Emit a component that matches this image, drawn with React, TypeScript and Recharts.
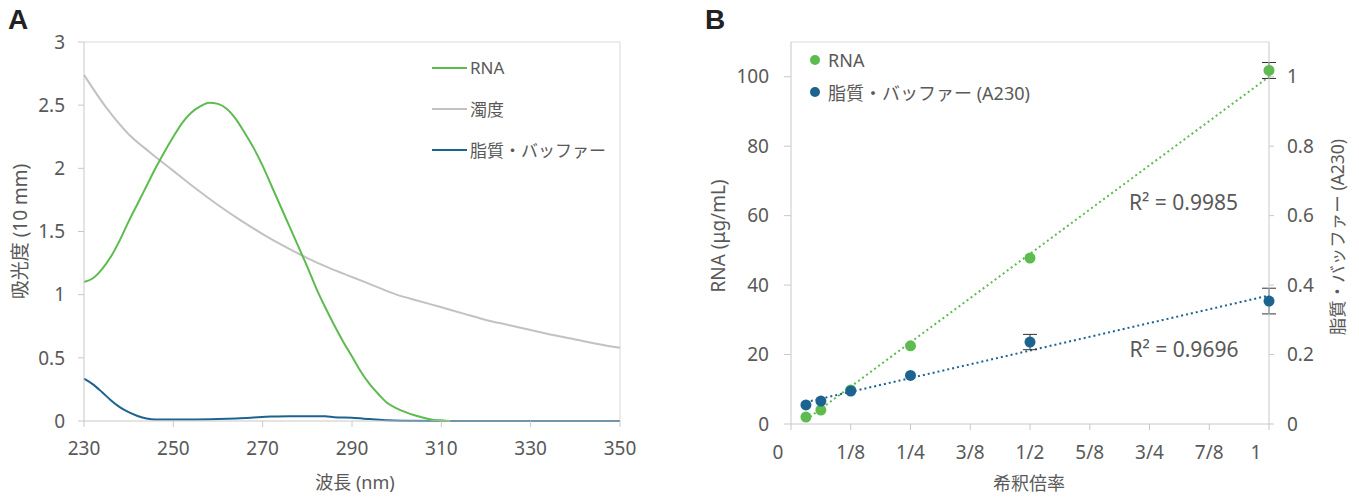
import {
  LineChart,
  Line,
  XAxis,
  YAxis,
  Legend,
  ReferenceLine,
  ReferenceDot,
  ComposedChart,
  Scatter,
  ErrorBar,
} from "recharts";

const FONT = '"Noto Sans", "Noto Sans CJK JP", sans-serif';
const TEXT = "#595959";
const AXIS = "#c8c8c8";
const GREEN = "#5dbb4f";
const BLUE = "#1d6390";
const GRAY = "#c2c2c2";

// --- panel A: absorbance spectra ---
const rnaNm = [
  230, 232, 234, 236, 238, 240, 242, 244, 246, 248, 250, 252, 254, 256, 258, 260, 262, 264, 266, 268,
  270, 272, 274, 276, 278, 280, 282, 284, 286, 288, 290, 292, 294, 296, 298, 300, 302, 304, 306, 308,
  310, 312,
];
const rnaAbs = [
  1.1, 1.13, 1.2, 1.3, 1.43, 1.58, 1.72, 1.86, 2.0, 2.13, 2.25, 2.36, 2.44, 2.49, 2.52, 2.51, 2.47, 2.39,
  2.28, 2.16, 2.02, 1.86, 1.7, 1.54, 1.38, 1.22, 1.05, 0.9, 0.76, 0.63, 0.51, 0.39, 0.29, 0.21, 0.14,
  0.1, 0.07, 0.045, 0.025, 0.01, 0.005, 0,
];
const turbNm = [
  230, 235, 240, 245, 250, 255, 260, 265, 270, 275, 280, 285, 290, 295, 300, 305, 310, 315, 320, 325,
  330, 335, 340, 345, 350,
];
const turbAbs = [
  2.74, 2.48, 2.27, 2.12, 1.98, 1.84, 1.71, 1.59, 1.48, 1.38, 1.29, 1.21, 1.14, 1.07, 1.0, 0.95, 0.9,
  0.85, 0.8, 0.76, 0.72, 0.68, 0.645, 0.61, 0.58,
];
const lipidNm = [
  230, 232, 234, 236, 238, 240, 242, 244, 246, 250, 255, 260, 264, 268, 272, 276, 280, 284, 286, 290,
  294, 298, 302, 310, 350,
];
const lipidAbs = [
  0.335, 0.29, 0.23, 0.165, 0.11, 0.07, 0.04, 0.02, 0.012, 0.012, 0.012, 0.015, 0.02, 0.028, 0.035,
  0.038, 0.038, 0.037, 0.03, 0.025, 0.015, 0.005, 0.002, 0, 0,
];
const nmTicks = [230, 250, 270, 290, 310, 330, 350];
const absTicks = [0, 0.5, 1, 1.5, 2, 2.5, 3];

// --- panel B: dilution series ---
const dilution = [1 / 32, 1 / 16, 1 / 8, 1 / 4, 1 / 2, 1];
const rnaConc = [2, 4, 9.8, 22.5, 47.8, 101.8];
const rnaErr = [null, null, null, null, null, 2.3];
const lipidA230 = [0.055, 0.066, 0.095, 0.14, 0.236, 0.354];
const lipidErr = [null, null, null, null, 0.022, 0.037];
const rnaFitEnds = [1.2, 100];
const lipidFitEnds = [0.063, 0.37];
const dilutionTicks = [0, 0.125, 0.25, 0.375, 0.5, 0.625, 0.75, 0.875, 1];
const dilutionLabels = ["0", "1/8", "1/4", "3/8", "1/2", "5/8", "3/4", "7/8", "1"];
const rnaTicks = [0, 20, 40, 60, 80, 100];
const lipidTicks = [0, 0.2, 0.4, 0.6, 0.8, 1];

const toPoints = (xs: number[], ys: number[]) => xs.map((x, i) => ({ x, y: ys[i] }));

const rnaSpectrum = toPoints(rnaNm, rnaAbs);
const turbSpectrum = toPoints(turbNm, turbAbs);
const lipidSpectrum = toPoints(lipidNm, lipidAbs);

const rnaPoints = dilution.map((x, i) => ({ x, y: rnaConc[i], err: rnaErr[i] }));
const lipidPoints = dilution.map((x, i) => ({ x, y: lipidA230[i], err: lipidErr[i] }));
const last = dilution.length - 1;
const rnaFit = [
  { x: dilution[0], y: rnaFitEnds[0] },
  { x: dilution[last], y: rnaFitEnds[1] },
];
const lipidFit = [
  { x: dilution[0], y: lipidFitEnds[0] },
  { x: dilution[last], y: lipidFitEnds[1] },
];

const legendA = [
  { name: "RNA", color: GREEN },
  { name: "濁度", color: GRAY },
  { name: "脂質・バッファー", color: BLUE },
];
const legendB = [
  { name: "RNA", color: GREEN },
  { name: "脂質・バッファー (A230)", color: BLUE },
];

const tickStyle = { fill: TEXT, fontSize: 19, fontFamily: FONT };

function AxisTitle(props: any) {
  const { viewBox, title, rot = 0, shiftX = 0, shiftY = 0, size = 18 } = props;
  if (!viewBox) return null;
  const cx = viewBox.x + viewBox.width / 2 + shiftX;
  const cy = viewBox.y + viewBox.height / 2 + shiftY;
  return (
    <text
      x={cx}
      y={cy}
      transform={`rotate(${rot} ${cx} ${cy})`}
      textAnchor="middle"
      dominantBaseline="central"
      fill={TEXT}
      fontSize={size}
      fontFamily={FONT}
    >
      {title}
    </text>
  );
}

function FractionTick(props: any) {
  const { x, y, payload } = props;
  const label = dilutionLabels[dilutionTicks.indexOf(payload.value)] ?? "";
  const shift = label.includes("/") ? 0 : -13;
  return (
    <text x={x + shift} y={y} dy="0.71em" textAnchor="middle" {...tickStyle}>
      {label}
    </text>
  );
}

function LineLegend() {
  return (
    <div style={{ fontFamily: FONT, color: TEXT, fontSize: 17 }}>
      {legendA.map((item) => (
        <div key={item.name} style={{ display: "flex", alignItems: "center", height: 41 }}>
          <div style={{ width: 35, height: 2, background: item.color, marginRight: 3 }} />
          <span>{item.name}</span>
        </div>
      ))}
    </div>
  );
}

function DotLegend() {
  return (
    <div style={{ fontFamily: FONT, color: TEXT, fontSize: 18 }}>
      {legendB.map((item) => (
        <div key={item.name} style={{ display: "flex", alignItems: "center", height: 32 }}>
          <div
            style={{
              width: 10,
              height: 10,
              borderRadius: 5,
              background: item.color,
              marginRight: 8,
            }}
          />
          <span>{item.name}</span>
        </div>
      ))}
    </div>
  );
}

const dot = (color: string) => (p: any) => <circle cx={p.cx} cy={p.cy} r={5.5} fill={color} />;

function PanelLetter({ x, text }: { x: number; text: string }) {
  return (
    <div
      style={{
        position: "absolute",
        left: x,
        top: 4,
        fontFamily: '"Liberation Sans", Arial, sans-serif',
        fontWeight: 700,
        fontSize: 28,
        color: "#222",
      }}
    >
      {text}
    </div>
  );
}

export default function App() {
  return (
    <div
      style={{
        position: "absolute",
        left: 0,
        top: 0,
        width: 1359,
        height: 497,
        background: "#fff",
        overflow: "hidden",
      }}
    >
      <PanelLetter x={8} text="A" />
      <PanelLetter x={705} text="B" />

      <div style={{ position: "absolute", left: 0, top: 0 }}>
        <LineChart width={660} height={497} margin={{ top: 42, right: 40, bottom: 46, left: 24 }}>
          <XAxis
            dataKey="x"
            type="number"
            domain={[230, 350]}
            ticks={nmTicks}
            interval={0}
            height={30}
            stroke={AXIS}
            tickLine={{ stroke: AXIS }}
            tickSize={6}
            tickMargin={15}
            tick={tickStyle}
            label={<AxisTitle title="波長 (nm)" shiftX={3} shiftY={46} />}
          />
          <YAxis
            dataKey="y"
            type="number"
            domain={[0, 3]}
            ticks={absTicks}
            interval={0}
            width={60}
            stroke={AXIS}
            tickLine={{ stroke: AXIS }}
            tickSize={6}
            tickMargin={13}
            tick={tickStyle}
            label={<AxisTitle title="吸光度 (10 mm)" rot={-90} shiftX={-34} size={19} />}
          />
          <ReferenceLine y={3} stroke="#d9d9d9" />
          <ReferenceLine x={350} stroke="#d9d9d9" />
          <Line
            type="monotone"
            data={turbSpectrum}
            dataKey="y"
            name="濁度"
            stroke={GRAY}
            strokeWidth={2}
            dot={false}
            isAnimationActive={false}
          />
          <Line
            type="monotone"
            data={lipidSpectrum}
            dataKey="y"
            name="脂質・バッファー"
            stroke={BLUE}
            strokeWidth={2}
            dot={false}
            isAnimationActive={false}
          />
          <Line
            type="monotone"
            data={rnaSpectrum}
            dataKey="y"
            name="RNA"
            stroke={GREEN}
            strokeWidth={2}
            dot={false}
            isAnimationActive={false}
          />
          <Legend
            layout="vertical"
            align="center"
            verticalAlign="middle"
            wrapperStyle={{ top: 47, left: 432, width: "auto" }}
            content={<LineLegend />}
          />
        </LineChart>
      </div>

      <div style={{ position: "absolute", left: 680, top: 0 }}>
        <ComposedChart width={679} height={497} margin={{ top: 42, right: 40, bottom: 43, left: 51 }}>
          <XAxis
            dataKey="x"
            type="number"
            domain={[0, 1]}
            ticks={dilutionTicks}
            interval={0}
            height={30}
            stroke={AXIS}
            tickLine={{ stroke: AXIS }}
            tickSize={6}
            tickMargin={16}
            tick={<FractionTick />}
            label={<AxisTitle title="希釈倍率" shiftX={-1} shiftY={44} />}
          />
          <YAxis
            yAxisId="rna"
            dataKey="y"
            type="number"
            domain={[0, 110]}
            ticks={rnaTicks}
            interval={0}
            width={60}
            stroke={AXIS}
            tickLine={{ stroke: AXIS }}
            tickSize={7}
            tickMargin={15}
            tick={tickStyle}
            label={<AxisTitle title="RNA (μg/mL)" rot={-90} shiftX={-43} shiftY={3} size={19} />}
          />
          <YAxis
            yAxisId="lipid"
            orientation="right"
            dataKey="y"
            type="number"
            domain={[0, 1.1]}
            ticks={lipidTicks}
            interval={0}
            width={50}
            stroke={AXIS}
            tickLine={{ stroke: AXIS }}
            tickSize={5}
            tickMargin={13}
            tick={tickStyle}
            label={
              <AxisTitle title="脂質・バッファー (A230)" rot={-90} shiftX={43} shiftY={4} size={17.5} />
            }
          />
          <ReferenceLine yAxisId="rna" y={110} stroke="#d9d9d9" />
          <Line
            yAxisId="rna"
            data={rnaFit}
            dataKey="y"
            stroke={GREEN}
            strokeWidth={2}
            strokeDasharray="2 3"
            dot={false}
            legendType="none"
            isAnimationActive={false}
          />
          <Line
            yAxisId="lipid"
            data={lipidFit}
            dataKey="y"
            stroke={BLUE}
            strokeWidth={2}
            strokeDasharray="2 3"
            dot={false}
            legendType="none"
            isAnimationActive={false}
          />
          <Scatter
            yAxisId="rna"
            data={rnaPoints}
            dataKey="y"
            name="RNA"
            fill={GREEN}
            shape={dot(GREEN)}
            isAnimationActive={false}
          >
            <ErrorBar dataKey="err" direction="y" width={7} stroke="#333" strokeWidth={1} />
          </Scatter>
          <Scatter
            yAxisId="lipid"
            data={lipidPoints}
            dataKey="y"
            name="脂質・バッファー (A230)"
            fill={BLUE}
            shape={dot(BLUE)}
            isAnimationActive={false}
          >
            <ErrorBar dataKey="err" direction="y" width={7} stroke="#333" strokeWidth={1} />
          </Scatter>
          <ReferenceDot
            yAxisId="rna"
            x={0.821}
            y={63.9}
            r={0}
            fill="none"
            stroke="none"
            label={{ value: "R² = 0.9985", position: "center", fill: TEXT, fontSize: 21, fontFamily: FONT }}
          />
          <ReferenceDot
            yAxisId="rna"
            x={0.822}
            y={21.3}
            r={0}
            fill="none"
            stroke="none"
            label={{ value: "R² = 0.9696", position: "center", fill: TEXT, fontSize: 21, fontFamily: FONT }}
          />
          <Legend
            layout="vertical"
            align="center"
            verticalAlign="middle"
            wrapperStyle={{ top: 44, left: 130, width: "auto" }}
            content={<DotLegend />}
          />
        </ComposedChart>
      </div>
    </div>
  );
}
